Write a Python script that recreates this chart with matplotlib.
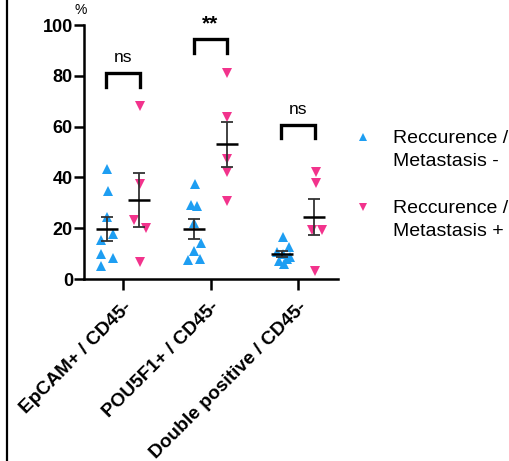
import numpy as np
import matplotlib
matplotlib.use("Agg")
import matplotlib.pyplot as plt
from matplotlib.lines import Line2D

plt.rcParams['font.family'] = ['Liberation Sans', 'DejaVu Sans']

# categories / groups
categories = ["EpCAM+ / CD45-", "POU5F1+ / CD45-", "Double positive / CD45-"]

# % values, recurrence/metastasis negative (blue) and positive (pink)
neg_vals = [
    [43.4, 34.6, 24.3, 17.8, 15.4, 9.9, 8.3, 5.0],
    [37.5, 29.2, 28.9, 22.0, 14.1, 11.2, 7.5, 7.9],
    [16.4, 12.5, 10.5, 9.9, 7.2, 7.9, 5.9, 8.5],
]
pos_vals = [
    [68.0, 37.5, 23.3, 20.1, 6.6],
    [81.2, 63.8, 47.4, 42.1, 30.9],
    [42.1, 37.7, 19.1, 19.1, 3.3],
]
# horizontal scatter of each point (offset from category tick, data units)
neg_dx = [
    [-0.18, -0.17, -0.18, -0.11, -0.25, -0.25, -0.12, -0.25],
    [-0.18, -0.22, -0.15, -0.19, -0.11, -0.19, -0.26, -0.12],
    [-0.17, -0.10, -0.24, -0.17, -0.22, -0.13, -0.16, -0.09],
]
pos_dx = [
    [0.19, 0.19, 0.12, 0.26, 0.19],
    [0.19, 0.19, 0.19, 0.19, 0.19],
    [0.21, 0.21, 0.16, 0.27, 0.19],
]
# significance brackets: label, top, bottom
sig_labels = ["ns", "**", "ns"]
sig_top = [81.2, 94.3, 60.8]
sig_bot = [75.5, 89.0, 55.4]

blue = '#1E9EF2'
pink = '#F2338C'

fig = plt.figure(figsize=(5.09, 4.61), dpi=100)
ax = fig.add_axes([84/509, 182/461, 254/509, 254/461])

xs = np.arange(1, len(categories) + 1)
off = 0.185
for i, x in enumerate(xs):
    for vals, dx, col, mk, side in [(neg_vals[i], neg_dx[i], blue, '^', -off),
                                    (pos_vals[i], pos_dx[i], pink, 'v', off)]:
        v = np.array(vals)
        ax.plot(x + np.array(dx), v, linestyle='none', marker=mk, ms=7,
                color=col, markeredgewidth=0, zorder=2)
        m = v.mean()
        sem = v.std(ddof=1) / np.sqrt(len(v))
        ax.errorbar(x + side, m, yerr=sem, color='#333333', lw=1.3,
                    capsize=4, capthick=1.3, zorder=3)
        ax.hlines(m, x + side - 0.125, x + side + 0.125, color='black',
                  lw=1.8, zorder=4)
    # bracket
    ax.plot([x - 0.19, x - 0.19, x + 0.19, x + 0.19],
            [sig_bot[i], sig_top[i], sig_top[i], sig_bot[i]],
            color='black', lw=2.4, solid_joinstyle='miter', zorder=3)
    if sig_labels[i] == "**":
        ax.text(x, sig_top[i] + 2.2, sig_labels[i], ha='center', va='bottom',
                fontsize=15, fontweight='bold')
    else:
        ax.text(x, sig_top[i] + 3.0, sig_labels[i], ha='center', va='bottom',
                fontsize=12.5)

ax.set_xlim(0.554, 3.457)
ax.set_ylim(0, 100)
ax.set_yticks([0, 20, 40, 60, 80, 100])
ax.set_xticks(xs)
ax.set_xticklabels(categories, rotation=45, ha='right', va='top',
                   rotation_mode='anchor')
for lab in ax.get_yticklabels():
    lab.set_fontweight('bold')
    lab.set_fontsize(13)
for lab in ax.get_xticklabels():
    lab.set_fontweight('bold')
    lab.set_fontsize(13.8)
ax.tick_params(axis='y', length=7, width=1.8, pad=1)
ax.tick_params(axis='x', length=8, width=1.8, pad=6)
ax.spines['top'].set_visible(False)
ax.spines['right'].set_visible(False)
for s in ['left', 'bottom']:
    ax.spines[s].set_linewidth(1.8)

ax.text(-0.012, 1.03, '%', transform=ax.transAxes, ha='center',
        va='bottom', fontsize=10)

handles = [Line2D([], [], linestyle='none', marker='^', ms=6, color=blue, markeredgewidth=0),
           Line2D([], [], linestyle='none', marker='v', ms=6, color=pink, markeredgewidth=0)]
labels = ["Reccurence /\nMetastasis -", "Reccurence /\nMetastasis +"]
leg = ax.legend(handles, labels, loc='upper left', bbox_to_anchor=(1.060, 0.587),
                frameon=False, fontsize=14, handlelength=1.0, handletextpad=1.05,
                borderpad=0, borderaxespad=0, labelspacing=1.55)
for t in leg.get_texts():
    t.set_linespacing(1.45)
# put each marker level with the first line of its label
for col in leg._legend_handle_box.get_children():
    for item in col.get_children():
        item.align = 'top'

# thin frame line at left edge of the panel
fig.add_artist(Line2D([7/509, 7/509], [0, 1], transform=fig.transFigure,
                      color='black', lw=1.6))

fig.savefig('out.png', dpi=100)
